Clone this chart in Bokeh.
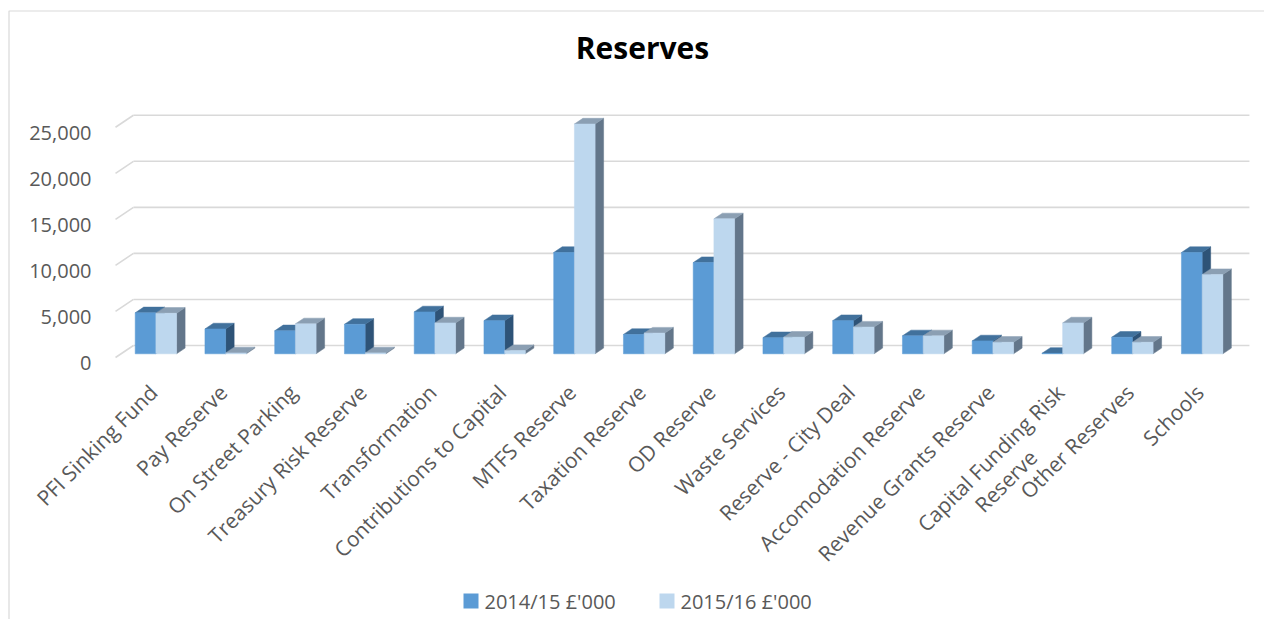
import numpy as np
from bokeh.plotting import figure
from bokeh.models import Range1d, ColumnDataSource
from bokeh.core.properties import value
from bokeh.embed import file_html
from bokeh.resources import INLINE

# ---------------- data ----------------
title = "Reserves"
categories = ["PFI Sinking Fund", "Pay Reserve", "On Street Parking", "Treasury Risk Reserve",
              "Transformation", "Contributions to Capital", "MTFS Reserve", "Taxation Reserve",
              "OD Reserve", "Waste Services", "Reserve - City Deal", "Accomodation Reserve",
              "Revenue Grants Reserve", "Capital Funding Risk Reserve", "Other Reserves", "Schools"]
series_names = ["2014/15 £'000", "2015/16 £'000"]
values_2014 = [4450, 2700, 2500, 3200, 4550, 3600, 11000, 2100, 9900, 1750, 3600, 1950, 1400, 50, 1800, 11000]
values_2015 = [4400, 100, 3250, 100, 3350, 350, 24950, 2250, 14650, 1800, 2900, 1950, 1250, 3350, 1250, 8600]
tick_values = [0, 5000, 10000, 15000, 20000, 25000]
tick_labels = ["0", "5,000", "10,000", "15,000", "20,000", "25,000"]

# ---------------- layout (screen pixels) ----------------
W, H = 1264, 619
PX_PER_CAT = 69.75
CAT0_PX = 155.4          # centre of first category at bar front plane
ZERO_PX = 353.3          # value 0 at bar front plane
PX_PER_UNIT = 0.00921
BAR_W = 20.7 / PX_PER_CAT
DEPTH = (8.5, 5.7)       # bar depth (right, up) px
BACK = (12.4, 8.3)       # back wall offset from bar plane
FRONT = (-5.5, -3.7)     # front floor edge offset from bar plane

def dx(px):
    return px / PX_PER_CAT

def dy(px):
    return px / PX_PER_UNIT

def X(px):
    return (px - CAT0_PX) / PX_PER_CAT

def Y(py):
    return (ZERO_PX - py) / PX_PER_UNIT

p = figure(width=W, height=H, output_backend="svg", toolbar_location=None,
           x_range=Range1d(X(0), X(W)), y_range=Range1d(Y(H), Y(0)),
           x_axis_type=None, y_axis_type=None, min_border=0,
           outline_line_color=None, background_fill_color="white",
           border_fill_color="white")

FONT = value("Open Sans")
GRID = "#d9d9d9"
TXT = "#595959"

# chart border
p.line(x=[X(8.5), X(8.5), X(W)], y=[Y(H), Y(10.5), Y(10.5)], line_color=GRID, line_width=1.2)

# back-wall gridlines + left wall diagonals
n = len(categories)
bx0 = -0.5 + dx(BACK[0])
bx1 = n - 0.5 + dx(BACK[0])
fx0 = -0.5 + dx(FRONT[0])
tv = np.array(tick_values, dtype=float)
p.segment(x0=[bx0] * len(tv), y0=tv + dy(BACK[1]), x1=[bx1] * len(tv), y1=tv + dy(BACK[1]),
          line_color=GRID, line_width=1.6)
p.segment(x0=[fx0] * len(tv), y0=tv + dy(FRONT[1]), x1=[bx0] * len(tv), y1=tv + dy(BACK[1]),
          line_color=GRID, line_width=1.6)

# 3D bars
colors = [
    {"front": "#5B9BD5", "top": "#41719C", "side": "#2E5377"},
    {"front": "#BDD7EE", "top": "#8B9FB3", "side": "#63768A"},
]
ddx, ddy = dx(DEPTH[0]), dy(DEPTH[1])
xs, ys, fills = [], [], []
for i in range(n):
    for s, vals in enumerate([values_2014, values_2015]):
        v = vals[i]
        x0 = i - BAR_W + s * BAR_W
        x1 = x0 + BAR_W
        # side
        xs.append([x1, x1, x1 + ddx, x1 + ddx]); ys.append([0, v, v + ddy, ddy]); fills.append(colors[s]["side"])
        # top
        xs.append([x0, x1, x1 + ddx, x0 + ddx]); ys.append([v, v, v + ddy, v + ddy]); fills.append(colors[s]["top"])
        # front
        xs.append([x0, x1, x1, x0]); ys.append([0, 0, v, v]); fills.append(colors[s]["front"])
p.patches(xs=xs, ys=ys, fill_color=fills, line_color=fills, line_width=0.5)

# y tick labels
p.text(x=[X(91)] * len(tv), y=tv - dy(9), text=tick_labels, text_align="right",
       text_baseline="middle", text_font=FONT, text_font_size="20px", text_color=TXT)

# category labels (rotated 45 degrees)
lx, ly, lt = [], [], []
for i, name in enumerate(categories):
    ax, ay = i + dx(-2.5), Y(388)
    if len(name) > 25:
        first, second = name.rsplit(" ", 1)
        lx.append(ax); ly.append(ay); lt.append(first)
        lx.append(ax + dx(-27)); ly.append(ay - dy(65)); lt.append(second)
    else:
        lx.append(ax); ly.append(ay); lt.append(name)
p.text(x=lx, y=ly, text=lt, angle=np.pi / 4, text_align="right", text_baseline="alphabetic",
       text_font=FONT, text_font_size="21px", text_color=TXT)

# title
p.text(x=[X(642)], y=[Y(47)], text=[title], text_align="center", text_baseline="alphabetic",
       text_font=FONT, text_font_size="30px", text_font_style="bold", text_color="#000000")

# legend
sq_left = [463, 659]
for s, name in enumerate(series_names):
    p.quad(left=[X(sq_left[s])], right=[X(sq_left[s] + 15)], top=[Y(593)], bottom=[Y(608)],
           fill_color=colors[s]["front"], line_color=None)
    p.text(x=[X(sq_left[s] + 21)], y=[Y(601)], text=[name], text_align="left", text_baseline="middle",
           text_font=FONT, text_font_size="20px", text_color=TXT)

open("out.html", "w").write(file_html(p, INLINE))
